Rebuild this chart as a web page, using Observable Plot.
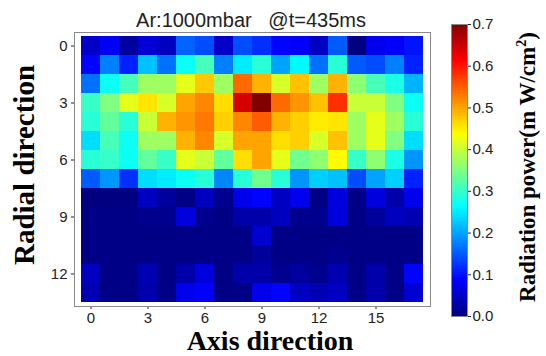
<!DOCTYPE html>
<html>
<head>
<meta charset="utf-8">
<script src="https://cdn.jsdelivr.net/npm/d3@7"></script>
<script src="https://cdn.jsdelivr.net/npm/@observablehq/plot@0.6"></script>
<style>
  html, body { margin: 0; padding: 0; background: #fff; }
  #root { position: relative; width: 546px; height: 356px; overflow: hidden; font-family: "Liberation Sans", Arial, sans-serif; }
  .abs { position: absolute; white-space: pre; line-height: 1; }
  .lbl { font-family: "Liberation Serif", "Times New Roman", serif; font-weight: bold; color: #000; }
</style>
</head>
<body>
<div id="root"></div>
<script>
// Axis categories
const cols = d3.range(0, 18);          // axis direction index
const rows = d3.range(0, 14);          // radial direction index
const xTicks = [0, 3, 6, 9, 12, 15];
const yTicks = [0, 3, 6, 9, 12];
const cbTicks = [0.0, 0.1, 0.2, 0.3, 0.4, 0.5, 0.6, 0.7];
const vmin = 0, vmax = 0.7;

// Radiation power (mW/cm^2), one array per radial row
const r0  = [0.05,0.08,0.02,0.06,0.045,0.155,0.14,0.05,0.14,0.12,0.09,0.085,0.045,0.15,0.0,0.075,0.085,0.10];
const r1  = [0.09,0.175,0.11,0.22,0.165,0.27,0.31,0.175,0.25,0.29,0.20,0.26,0.165,0.29,0.15,0.14,0.175,0.11];
const r2  = [0.165,0.27,0.31,0.37,0.37,0.42,0.475,0.37,0.54,0.49,0.41,0.48,0.37,0.49,0.36,0.31,0.28,0.21];
const r3  = [0.30,0.35,0.42,0.455,0.41,0.50,0.52,0.46,0.64,0.70,0.54,0.51,0.48,0.58,0.40,0.40,0.35,0.27];
const r4  = [0.29,0.33,0.29,0.40,0.49,0.51,0.53,0.47,0.52,0.55,0.49,0.47,0.45,0.455,0.37,0.42,0.37,0.29];
const r5  = [0.24,0.31,0.27,0.37,0.37,0.49,0.52,0.41,0.50,0.50,0.46,0.47,0.41,0.48,0.37,0.42,0.35,0.24];
const r6  = [0.29,0.30,0.27,0.33,0.30,0.42,0.40,0.33,0.46,0.50,0.42,0.34,0.36,0.44,0.30,0.36,0.28,0.19];
const r7  = [0.15,0.19,0.12,0.24,0.25,0.27,0.29,0.18,0.29,0.34,0.29,0.19,0.23,0.22,0.14,0.20,0.23,0.11];
const r8  = [0.0,0.0,0.0,0.045,0.02,0.005,0.045,0.01,0.075,0.09,0.045,0.075,0.005,0.065,0.005,0.065,0.03,0.075];
const r9  = [0.005,0.005,0.005,0.01,0.01,0.065,0.01,0.005,0.03,0.03,0.045,0.01,0.01,0.065,0.005,0.02,0.045,0.035];
const r10 = [0.005,0.005,0.005,0.005,0.005,0.005,0.005,0.005,0.005,0.055,0.005,0.005,0.005,0.005,0.005,0.005,0.005,0.005];
const r11 = [0.005,0.005,0.005,0.005,0.005,0.005,0.005,0.005,0.005,0.02,0.005,0.005,0.005,0.01,0.005,0.005,0.005,0.005];
const r12 = [0.045,0.005,0.005,0.035,0.005,0.03,0.065,0.005,0.03,0.03,0.01,0.02,0.01,0.035,0.005,0.03,0.005,0.09];
const r13 = [0.035,0.005,0.005,0.03,0.005,0.075,0.085,0.005,0.005,0.075,0.09,0.045,0.035,0.045,0.005,0.03,0.005,0.055];
const power = [r0,r1,r2,r3,r4,r5,r6,r7,r8,r9,r10,r11,r12,r13];

const cells = [];
rows.forEach((r, i) => cols.forEach((c, j) => cells.push({x: c, y: r, v: power[i][j]})));

// jet colormap
const clamp = v => Math.max(0, Math.min(1, v));
const jet = t => {
  const r = clamp(1.5 - Math.abs(4 * t - 3));
  const g = clamp(1.5 - Math.abs(4 * t - 2));
  const b = clamp(1.5 - Math.abs(4 * t - 1));
  return d3.rgb(r * 255, g * 255, b * 255).toString();
};
const colorOpts = {type: "linear", domain: [vmin, vmax], interpolate: jet};

const root = document.getElementById("root");
const axisStyle = {fontFamily: "Liberation Sans, Arial, sans-serif", fontSize: "15px", color: "#222", background: "transparent"};

const main = Plot.plot({
  width: 440, height: 356,
  marginLeft: 74, marginRight: 10, marginTop: 32, marginBottom: 50,
  style: axisStyle,
  x: {type: "band", domain: cols, padding: 0, ticks: xTicks, tickSize: 3, tickPadding: 3, label: null},
  y: {type: "band", domain: rows, padding: 0, ticks: yTicks, tickSize: 3, tickPadding: 4, label: null},
  color: colorOpts,
  marks: [
    Plot.cell(cells, {x: "x", y: "y", fill: "v", inset: 0, shapeRendering: "crispEdges"}),
    Plot.frame({stroke: "#8a8a8a", strokeWidth: 1})
  ]
});
main.style.position = "absolute";
main.style.left = "0px";
main.style.top = "0px";
root.appendChild(main);

// colorbar
const stops = d3.range(0, 200).map(i => ({
  y1: vmin + (vmax - vmin) * i / 200,
  y2: vmin + (vmax - vmin) * (i + 1) / 200
}));
const cbar = Plot.plot({
  width: 60, height: 356,
  marginLeft: 11, marginRight: 33, marginTop: 24, marginBottom: 40,
  style: axisStyle,
  x: {domain: [0, 1], axis: null},
  y: {domain: [vmin, vmax], ticks: cbTicks, tickFormat: d3.format(".1f"), axis: "right", tickSize: 3, tickPadding: 2, label: null},
  color: colorOpts,
  marks: [
    Plot.rect(stops, {x1: 0, x2: 1, y1: "y1", y2: "y2", fill: d => (d.y1 + d.y2) / 2, inset: 0, shapeRendering: "crispEdges"}),
    Plot.frame({stroke: "#8a8a8a", strokeWidth: 1})
  ]
});
cbar.style.position = "absolute";
cbar.style.left = "440px";
cbar.style.top = "0px";
root.appendChild(cbar);

function addText(txt, css, cls) {
  const d = document.createElement("div");
  d.className = "abs " + (cls || "");
  d.textContent = txt;
  Object.assign(d.style, css);
  root.appendChild(d);
  return d;
}

addText("Ar:1000mbar   @t=435ms", {left: "251px", top: "20px", transform: "translate(-50%,-50%)", fontSize: "20px", color: "#222"});
addText("Axis direction", {left: "270px", top: "341px", transform: "translate(-50%,-50%)", fontSize: "28px"}, "lbl");
addText("Radial direction", {left: "24px", top: "165px", transform: "translate(-50%,-50%) rotate(-90deg)", fontSize: "29px"}, "lbl");
const cb = addText("", {left: "527px", top: "167px", transform: "translate(-50%,-50%) rotate(-90deg)", fontSize: "23px"}, "lbl");
cb.innerHTML = "Radiation power(m W/cm<sup style=\"font-size:14px\">2</sup>)";
</script>
</body>
</html>
